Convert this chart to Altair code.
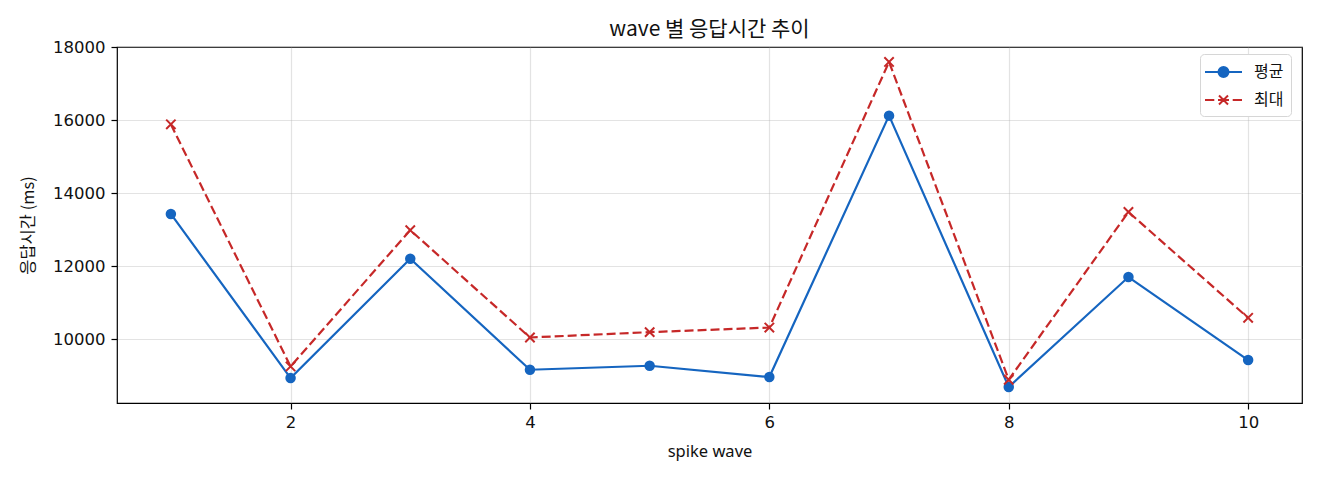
import altair as alt
import pandas as pd

# data
waves = [1, 2, 3, 4, 5, 6, 7, 8, 9, 10]
avg_ms = [13427, 8934, 12200, 9161, 9270, 8961, 16120, 8688, 11700, 9426]
max_ms = [15882, 9251, 12984, 10044, 10191, 10317, 17590, 8887, 13481, 10582]
series_names = ['평균', '최대']
series_colors = ['#1565C0', '#C62828']
x_ticks = [2, 4, 6, 8, 10]
y_ticks = [10000, 12000, 14000, 16000, 18000]

KR_FONT = 'Noto Sans CJK KR'
TICK_FONT = 'DejaVu Sans'

# marker shapes (unit box -1..1)
X_PATH = 'M-1,-1L1,1M-1,1L1,-1'
# legend symbols: short line with the marker on it
AVG_SYM = ('M-1.85,0H1.85'
           'M-0.5,0A0.5,0.5 0 1,1 0.5,0A0.5,0.5 0 1,1 -0.5,0Z')
MAX_SYM = ('M-1.85,0H-0.92M-0.55,0H0.55M0.92,0H1.85'
           'M-0.45,-0.45L0.45,0.45M-0.45,0.45L0.45,-0.45')

df = pd.concat([
    pd.DataFrame({'wave': waves, 'ms': avg_ms, 'series': series_names[0]}),
    pd.DataFrame({'wave': waves, 'ms': max_ms, 'series': series_names[1]}),
], ignore_index=True)

W, H = 1185, 356

x = alt.X('wave:Q', title='spike wave',
          scale=alt.Scale(domain=[0.55, 10.45], nice=False, zero=False),
          axis=alt.Axis(values=x_ticks, labelPadding=5,
                        titleX=W / 2, titleY=48, titleBaseline='middle',
                        titleFont='Noto Sans'))
y = alt.Y('ms:Q', title='응답시간 (ms)',
          scale=alt.Scale(domain=[8250, 18000], nice=False, zero=False),
          axis=alt.Axis(values=y_ticks, format='d', labelPadding=6,
                        titleX=-89, titleY=H / 2, titleAngle=-90,
                        titleAlign='center', titleBaseline='middle',
                        titleFont=KR_FONT))
color_scale = alt.Scale(domain=series_names, range=series_colors)

base = alt.Chart(df).encode(x=x, y=y)
avg = base.transform_filter(alt.datum.series == series_names[0])
mx = base.transform_filter(alt.datum.series == series_names[1])

avg_line = avg.mark_line(strokeWidth=2.2, color=series_colors[0])
avg_pts = avg.mark_point(shape='circle', filled=True, size=110, opacity=1,
                         color=series_colors[0])
max_line = mx.mark_line(strokeWidth=2.2, strokeDash=[9, 4], color=series_colors[1])
max_pts = mx.mark_point(shape=X_PATH, filled=False, size=88,
                        strokeWidth=2, opacity=1, color=series_colors[1])

leg = alt.Legend(title=None, orient='none', legendX=1083, legendY=7,
                 symbolSize=400, symbolOffset=5.5, labelOffset=19.5,
                 labelFont=KR_FONT, labelFontSize=16, labelColor='#111',
                 fillColor='white', strokeColor='#d6d6d6', cornerRadius=4,
                 padding=7, rowPadding=8, symbolStrokeWidth=2,
                 symbolOpacity=1)

# empty layer that only carries the legend
legend_layer = alt.Chart(df).transform_filter('false').mark_point(
    filled=True, strokeWidth=2, opacity=1
).encode(
    x=x, y=y,
    color=alt.Color('series:N', scale=color_scale, legend=leg),
    stroke=alt.Stroke('series:N', scale=color_scale, legend=leg),
    shape=alt.Shape('series:N',
                    scale=alt.Scale(domain=series_names, range=[AVG_SYM, MAX_SYM]),
                    legend=leg),
)

chart = alt.layer(avg_line, avg_pts, max_line, max_pts, legend_layer).properties(
    width=W, height=H,
    title=alt.TitleParams('wave 별 응답시간 추이', font=KR_FONT, fontSize=21,
                          fontWeight='normal', color='#111', anchor='middle',
                          frame='group', offset=10, dy=11),
    autosize=alt.AutoSizeParams(type='none'),
    padding={'left': 109, 'top': 39, 'right': 10, 'bottom': 69},
).configure_view(
    stroke='black', strokeWidth=1.2
).configure_axis(
    grid=True, gridColor='#b0b0b0', gridOpacity=0.35, gridWidth=1.2,
    domain=False, tickColor='black', tickWidth=1.2, tickSize=6,
    labelFont=TICK_FONT, labelFontSize=16.5, labelColor='#111',
    titleFontSize=16.5, titleFontWeight='normal', titleColor='#111',
)

chart.save('out.html', embed_options={'renderer': 'svg', 'actions': False})
